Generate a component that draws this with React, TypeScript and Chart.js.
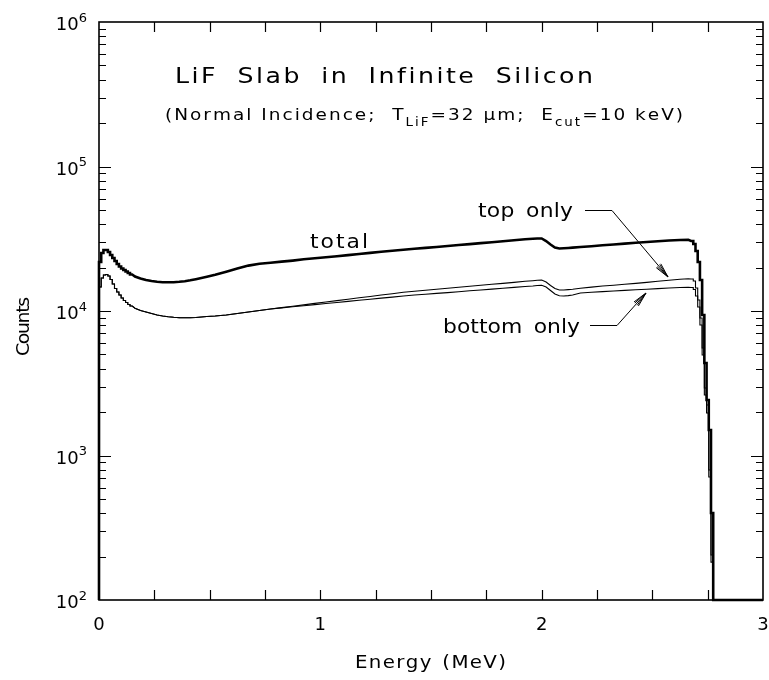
import React, { useEffect, useRef } from "react";
import { Chart, registerables } from "chart.js";

Chart.register(...registerables);

// Energy bin edges (MeV); finer bins where the spectrum changes quickly.
const binEdges = [
  0, 0.01, 0.02, 0.03, 0.04, 0.05, 0.06, 0.07, 0.08, 0.09, 0.1, 0.11, 0.12, 0.13, 0.14, 0.15,
  0.175, 0.2, 0.225, 0.25, 0.275, 0.3, 0.325, 0.35, 0.375, 0.4, 0.425, 0.45, 0.475, 0.5,
  0.55, 0.6, 0.65, 0.7, 0.75, 0.8, 0.85, 0.9, 0.95, 1.0, 1.05, 1.1, 1.15, 1.2, 1.25, 1.3, 1.35,
  1.4, 1.45, 1.5, 1.55, 1.6, 1.65, 1.7, 1.75, 1.8, 1.85, 1.9, 1.95,
  1.97, 1.99, 2.01, 2.03, 2.05, 2.07, 2.09, 2.11, 2.13, 2.15,
  2.2, 2.25, 2.3, 2.35, 2.4, 2.45, 2.5, 2.55, 2.6, 2.65,
  2.675,
  2.685, 2.695, 2.705, 2.715, 2.725, 2.735, 2.745, 2.755, 2.765, 2.775,
];

// Counts per bin, one value per interval of binEdges.
const totalCounts = [
  21830, 25200, 26430, 26430, 25600, 24410, 23270, 22180, 21150, 20320, 19690, 19220, 18770, 18320, 17890,
  17330, 16780, 16390, 16130, 15920, 15820, 15800, 15820, 15920, 16080, 16310, 16600, 16920, 17250,
  17810, 18710, 19650, 20610, 21250, 21590, 21960, 22330, 22790, 23160, 23530, 23940, 24370, 24800, 25240,
  25690, 26140, 26560, 26950, 27330, 27760, 28170, 28620, 29040, 29500, 29930, 30410, 30850, 31350,
  31600, 31760, 31760, 30510, 28850, 27500, 27070, 27160, 27290, 27460,
  27720, 28080, 28490, 28850, 29280, 29650, 30030, 30410, 30750, 30990,
  31100,
  30510, 29090, 26020, 21830, 16390, 9380, 4365, 2421, 1502, 400,
];

const topOnlyCounts = [
  14660, 16920, 17750, 17890, 17470, 16520, 15370, 14310, 13540, 12910, 12300, 11830, 11450, 11090, 10830,
  10440, 10080, 9842, 9610, 9382, 9234, 9117, 9044, 9001, 8987, 8987, 9016, 9088, 9160,
  9234, 9382, 9610, 9842, 10080, 10320, 10560, 10790, 11030, 11290, 11540, 11800, 12070, 12350, 12600,
  12890, 13180, 13480, 13700, 13920, 14140, 14360, 14590, 14820, 15060, 15300, 15540, 15790, 16050,
  16210, 16310, 16390, 15870, 15010, 14310, 13970, 13970, 14060, 14150,
  14380, 14620, 14890, 15070, 15310, 15540, 15790, 16050, 16310, 16570,
  16710,
  16650, 16130, 14430, 11920, 8944, 5545, 2932, 2236, 794, 205,
];

const bottomOnlyCounts = [
  14660, 16920, 17750, 17890, 17470, 16520, 15370, 14310, 13540, 12910, 12300, 11830, 11450, 11090, 10830,
  10440, 10080, 9842, 9610, 9382, 9234, 9117, 9044, 9001, 8987, 8987, 9016, 9088, 9160,
  9234, 9382, 9610, 9842, 10080, 10320, 10510, 10690, 10880, 11070, 11270, 11450, 11650, 11860, 12070,
  12280, 12480, 12700, 12890, 13050, 13240, 13410, 13600, 13800, 13970, 14180, 14380, 14570, 14780,
  14890, 15000, 15070, 14660, 13860, 13110, 12760, 12700, 12780, 12910,
  13320, 13480, 13620, 13760, 13900, 14040, 14150, 14290, 14430, 14550,
  14610,
  14550, 14090, 12700, 10660, 8000, 4962, 2622, 1968, 710, 183,
];

// Axis ranges and tick labels
const energyMin = 0;
const energyMax = 3;
const countsMin = 100;
const countsMax = 1e6;
const xTickLabels = ["0", "1", "2", "3"];
const yDecadeExponents = [2, 3, 4, 5, 6];

const FONT = "'DejaVu Sans', 'Liberation Sans', sans-serif";

type Pt = { x: number; y: number };

// Outline of a histogram. Narrow bins are drawn as flat steps, wider bins
// through their centres so the slowly varying part stays smooth.
function histogramOutline(counts: number[]): Pt[] {
  const pts: Pt[] = [{ x: binEdges[0], y: countsMin }];
  counts.forEach((c, i) => {
    const lo = binEdges[i];
    const hi = binEdges[i + 1];
    if (hi - lo < 0.0101) {
      pts.push({ x: lo, y: c }, { x: hi, y: c });
    } else {
      pts.push({ x: (lo + hi) / 2, y: c });
    }
  });
  pts.push({ x: binEdges[counts.length], y: countsMin });
  pts.push({ x: energyMax, y: countsMin });
  return pts;
}

type Run = { text: string; size: number; dy?: number };
type SpreadOpts = { stretch?: number; spaceEm?: number };

// Draws runs of text glyph by glyph (slightly widened), with a uniform gap
// so that the whole line spans the requested width.
function spreadRuns(
  ctx: CanvasRenderingContext2D,
  runs: Run[],
  x: number,
  y: number,
  width: number,
  opts: SpreadOpts = {}
) {
  const sx = opts.stretch ?? 1.1;
  const glyphs: { c: string; size: number; dy: number; w: number }[] = [];
  runs.forEach((r) => {
    ctx.font = `${r.size}px ${FONT}`;
    Array.from(r.text).forEach((c) => {
      const w = c === " " && opts.spaceEm != null ? opts.spaceEm * r.size : ctx.measureText(c).width * sx;
      glyphs.push({ c, size: r.size, dy: r.dy || 0, w });
    });
  });
  const sum = glyphs.reduce((a, g) => a + g.w, 0);
  const gap = glyphs.length > 1 ? (width - sum) / (glyphs.length - 1) : 0;
  let cx = x;
  glyphs.forEach((g) => {
    if (g.c !== " ") {
      ctx.save();
      ctx.font = `${g.size}px ${FONT}`;
      ctx.translate(cx, y + g.dy);
      ctx.scale(sx, 1);
      ctx.fillText(g.c, 0, 0);
      ctx.restore();
    }
    cx += g.w + gap;
  });
}

function arrowHead(ctx: CanvasRenderingContext2D, fromX: number, fromY: number, tipX: number, tipY: number) {
  const ang = Math.atan2(tipY - fromY, tipX - fromX);
  const len = 15;
  for (const spread of [-0.2, -0.11, 0.11, 0.2]) {
    ctx.beginPath();
    ctx.moveTo(tipX, tipY);
    ctx.lineTo(tipX - len * Math.cos(ang + spread), tipY - len * Math.sin(ang + spread));
    ctx.stroke();
  }
}

const framePlugin = {
  id: "frameAndText",
  afterDraw(chart: any) {
    const { ctx, chartArea: a, scales } = chart;
    const xs = scales.x;
    const ys = scales.y;
    ctx.save();
    ctx.strokeStyle = "#000";
    ctx.fillStyle = "#000";
    ctx.lineCap = "butt";

    // frame
    ctx.lineWidth = 1.6;
    ctx.strokeRect(a.left, a.top, a.right - a.left, a.bottom - a.top);

    // x ticks every 0.25 MeV, inward on bottom and top
    ctx.lineWidth = 1.2;
    for (let i = 1; i < 12; i++) {
      const px = Math.round(xs.getPixelForValue(i * 0.25)) + 0.5;
      ctx.beginPath();
      ctx.moveTo(px, a.bottom);
      ctx.lineTo(px, a.bottom - 10);
      ctx.moveTo(px, a.top);
      ctx.lineTo(px, a.top + 10);
      ctx.stroke();
    }

    // log y ticks, inward on left and right
    for (let d = 2; d < 6; d++) {
      for (let m = 1; m < 10; m++) {
        if (d === 2 && m === 1) continue;
        const py = Math.round(ys.getPixelForValue(m * Math.pow(10, d))) + 0.5;
        const len = m === 1 ? 12 : 7;
        ctx.beginPath();
        ctx.moveTo(a.left, py);
        ctx.lineTo(a.left + len, py);
        ctx.moveTo(a.right, py);
        ctx.lineTo(a.right - len, py);
        ctx.stroke();
      }
    }

    // y tick labels 10^n
    ctx.textBaseline = "alphabetic";
    ctx.textAlign = "left";
    yDecadeExponents.forEach((e) => {
      const py = ys.getPixelForValue(Math.pow(10, e));
      ctx.font = `13px ${FONT}`;
      const supW = ctx.measureText(String(e)).width;
      ctx.font = `18px ${FONT}`;
      const baseW = ctx.measureText("10").width;
      const right = a.left - 12;
      ctx.fillText("10", right - supW - baseW, py + 8);
      ctx.font = `13px ${FONT}`;
      ctx.fillText(String(e), right - supW, py - 0.5);
    });

    // x tick labels
    ctx.font = `18px ${FONT}`;
    ctx.textAlign = "center";
    xTickLabels.forEach((t) => {
      const px = xs.getPixelForValue(Number(t));
      ctx.fillText(t, px, a.bottom + 30);
    });

    // axis titles
    ctx.textAlign = "left";
    spreadRuns(ctx, [{ text: "Energy (MeV)", size: 18 }], 355, 668, 151, { spaceEm: 0.45 });
    ctx.save();
    ctx.translate(29, 356);
    ctx.rotate(-Math.PI / 2);
    spreadRuns(ctx, [{ text: "Counts", size: 18 }], 0, 0, 59, { stretch: 1.05 });
    ctx.restore();

    // titles
    spreadRuns(ctx, [{ text: "LiF Slab in Infinite Silicon", size: 21 }], 175, 83, 418, {
      stretch: 1.2,
      spaceEm: 0.8,
    });
    spreadRuns(
      ctx,
      [
        { text: "(Normal Incidence;  T", size: 16.5 },
        { text: "LiF", size: 12, dy: 6 },
        { text: "=32 \u03bcm;  E", size: 16.5 },
        { text: "cut", size: 12, dy: 6 },
        { text: "=10 keV)", size: 16.5 },
      ],
      165,
      120,
      518,
      { stretch: 1.12 }
    );

    // curve labels
    spreadRuns(ctx, [{ text: "total", size: 19 }], 310, 248, 58, { stretch: 1.15 });
    spreadRuns(ctx, [{ text: "top only", size: 19 }], 478, 217, 95, { stretch: 1.15, spaceEm: 0.6 });
    spreadRuns(ctx, [{ text: "bottom only", size: 19 }], 443, 333, 137, { stretch: 1.15, spaceEm: 0.6 });

    // leader lines with arrows
    ctx.lineWidth = 1;
    ctx.beginPath();
    ctx.moveTo(585, 210.5);
    ctx.lineTo(612, 210.5);
    ctx.lineTo(668, 277);
    ctx.stroke();
    arrowHead(ctx, 612, 210.5, 668, 277);

    ctx.beginPath();
    ctx.moveTo(590, 325.5);
    ctx.lineTo(617, 325.5);
    ctx.lineTo(646, 293);
    ctx.stroke();
    arrowHead(ctx, 617, 325.5, 646, 293);

    ctx.restore();
  },
};

export default function App() {
  const canvasRef = useRef<HTMLCanvasElement | null>(null);

  useEffect(() => {
    document.body.style.margin = "0";
    document.body.style.background = "#fff";
    const canvas = canvasRef.current;
    if (!canvas) return;

    const lineStyle = {
      stepped: false,
      tension: 0,
      pointRadius: 0,
      borderColor: "#000",
      borderJoinStyle: "miter" as const,
      borderCapStyle: "butt" as const,
      fill: false,
      clip: false as const,
    };

    const chart = new Chart(canvas, {
      type: "line",
      data: {
        datasets: [
          { label: "bottom only", data: histogramOutline(bottomOnlyCounts), borderWidth: 1.1, ...lineStyle },
          { label: "top only", data: histogramOutline(topOnlyCounts), borderWidth: 1.1, ...lineStyle },
          { label: "total", data: histogramOutline(totalCounts), borderWidth: 2.6, ...lineStyle },
        ],
      },
      options: {
        animation: false,
        responsive: false,
        devicePixelRatio: 1,
        parsing: false as any,
        layout: { padding: { left: 99, top: 22, right: 6, bottom: 80 } },
        scales: {
          x: { type: "linear", min: energyMin, max: energyMax, display: false },
          y: { type: "logarithmic", min: countsMin, max: countsMax, display: false },
        },
        plugins: {
          legend: { display: false },
          tooltip: { enabled: false },
        },
      },
      plugins: [framePlugin],
    });

    return () => chart.destroy();
  }, []);

  return (
    <div style={{ width: 769, height: 680, background: "#fff" }}>
      <canvas ref={canvasRef} width={769} height={680} style={{ display: "block" }} />
    </div>
  );
}
